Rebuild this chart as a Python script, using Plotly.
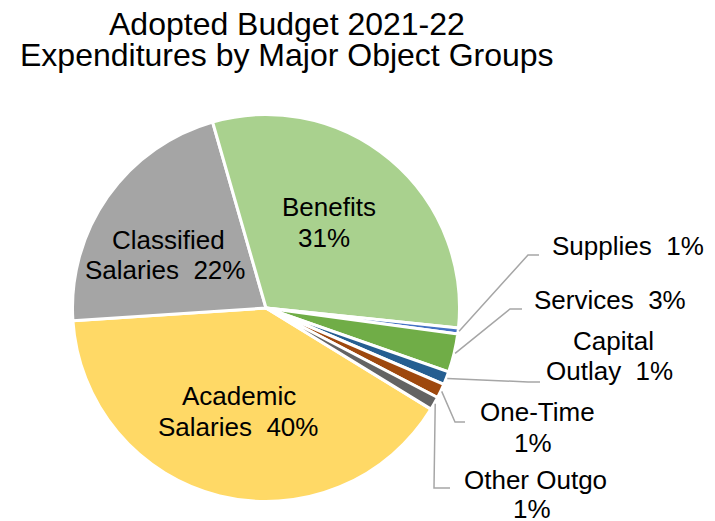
import math
import plotly.graph_objects as go

# Expenditure shares by major object group (percent of total)
categories = ["Academic Salaries", "Classified Salaries", "Benefits", "Supplies",
              "Services", "Capital Outlay", "One-Time", "Other Outgo"]
shares = [40.2, 21.6, 31.1, 0.5, 3.2, 1.1, 1.2, 1.1]
colors = ["#FFD966", "#A5A5A5", "#A9D18E", "#4472C4",
          "#70AD47", "#255E91", "#9E480E", "#636363"]

# How each label's name is broken over lines
label_lines = {
    "Academic Salaries": ["Academic", "Salaries  {p}"],
    "Classified Salaries": ["Classified", "Salaries  {p}"],
    "Benefits": ["Benefits", "{p}"],
    "Supplies": ["Supplies  {p}"],
    "Services": ["Services  {p}"],
    "Capital Outlay": ["Capital", "Outlay  {p}"],
    "One-Time": ["One-Time", "{p}"],
    "Other Outgo": ["Other Outgo", "{p}"],
}

W, H = 715, 521
CX, CY, R = 266, 308, 193.5      # pie centre and radius, pixels
START = 121.5                    # first slice angle, degrees clockwise from 12 o'clock
FONT = "Arial, Liberation Sans, sans-serif"


def px(x):
    return x / W


def py(y):
    return 1 - y / H


total = sum(shares)


def pct_text(v):
    return f"{int(math.floor(v * 100 / total + 0.5 + 1e-9))}%"


fig = go.Figure(go.Pie(
    labels=categories,
    values=shares,
    sort=False,
    direction="clockwise",
    rotation=START,
    marker=dict(colors=colors, line=dict(color="white", width=3)),
    textinfo="none",
    hoverinfo="label+percent",
    domain=dict(x=[px(CX - R), px(CX + R)], y=[py(CY + R), py(CY - R)]),
))

# Label placement: (centre x, middle y of each line), pixels
label_pos = {
    "Academic Salaries": [(239, 396), (238, 427)],
    "Classified Salaries": [(168, 240), (165, 270)],
    "Benefits": [(329, 207), (324, 238)],
    "Supplies": [(628, 246)],
    "Services": [(610, 300)],
    "Capital Outlay": [(613, 341), (609, 371)],
    "One-Time": [(537, 412), (533, 443)],
    "Other Outgo": [(535, 480), (532, 509)],
}

# Leader-line elbow and end points for the outside labels, pixels
leader_path = {
    "Supplies": [(528, 255), (539, 255)],
    "Services": [(510, 309), (522, 309)],
    "Capital Outlay": [(528, 382), (540, 382)],
    "One-Time": [(455, 422), (465, 422)],
    "Other Outgo": [(434, 488), (450, 488)],
}

annotations = []
for cat, v in zip(categories, shares):
    p = pct_text(v)
    for line, (x, y) in zip(label_lines[cat], label_pos[cat]):
        annotations.append(dict(
            x=px(x), y=py(y), xref="paper", yref="paper",
            text=line.format(p=p), showarrow=False,
            xanchor="center", yanchor="middle",
            font=dict(family=FONT, size=26, color="black"),
        ))

# Two-line title
for line, y in [("Adopted Budget 2021-22", 24), ("Expenditures by Major Object Groups", 55)]:
    annotations.append(dict(
        x=px(287), y=py(y), xref="paper", yref="paper", text=line,
        showarrow=False, xanchor="center", yanchor="middle",
        font=dict(family=FONT, size=32, color="black"),
    ))

# Leader lines start on the rim at each small slice's mid-angle
shapes = []
angle = START
for cat, v in zip(categories, shares):
    sweep = 360 * v / total
    mid = math.radians(angle + sweep / 2)
    angle += sweep
    if cat not in leader_path:
        continue
    sx = CX + 1.005 * R * math.sin(mid)
    sy = CY - 1.005 * R * math.cos(mid)
    pts = [(sx, sy)] + leader_path[cat]
    path = "M " + " L ".join(f"{px(x)},{py(y)}" for x, y in pts)
    shapes.append(dict(type="path", xref="paper", yref="paper", path=path,
                       line=dict(color="#A6A6A6", width=1.5)))

fig.update_layout(
    width=W, height=H,
    margin=dict(l=0, r=0, t=0, b=0),
    paper_bgcolor="white",
    plot_bgcolor="white",
    showlegend=False,
    annotations=annotations,
    shapes=shapes,
)

fig.write_html("out.html")
